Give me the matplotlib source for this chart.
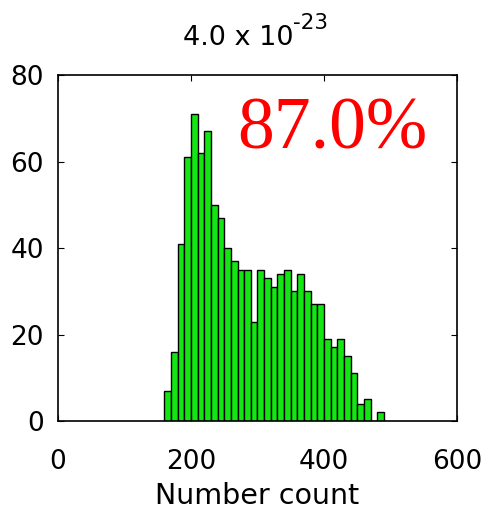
import numpy as np
import matplotlib
matplotlib.use("Agg")
import matplotlib.pyplot as plt

# ======================================================= #
# DATA
# ======================================================= #
bin_edges = np.arange(160, 500, 10)
counts = [7, 16, 41, 61, 71, 62, 67, 50, 47, 40, 37, 35, 35, 23, 35, 33, 31,
          34, 35, 30, 34, 30, 27, 27, 19, 17, 19, 15, 11, 4, 5, 0, 2]
title_base = "4.0 x 10"
title_exp = "-23"
fraction_label = "87.0%"
x_label = "Number count"

# ======================================================= #
# FIGURE
# ======================================================= #
plt.rcParams["font.family"] = ["DejaVu Sans"]

fig = plt.figure(figsize=(4.86, 5.11), dpi=100)
ax = fig.add_axes([0.1193, 0.1761, 0.821, 0.6771])

# histogram bars
ax.bar(bin_edges[:-1], counts, width=10, align="edge",
       color="#14e614", edgecolor="black", linewidth=1.0)

# axes limits and ticks
ax.set_xlim(0, 600)
ax.set_ylim(0, 80)
ax.set_xticks([0, 200, 400, 600])
ax.set_yticks([0, 20, 40, 60, 80])
ax.tick_params(direction="in", top=True, right=True, length=4, width=0.8,
               labelsize=19)
ax.tick_params(axis="x", pad=20)
ax.tick_params(axis="y", pad=10)
for sp in ax.spines.values():
    sp.set_linewidth(1.2)

# labels
ax.set_xlabel(x_label, fontsize=20.5, labelpad=5)

# title with a plain-hyphen exponent
fig.text(183 / 486, 1 - 45 / 511, title_base, fontsize=19.5,
         ha="left", va="baseline")
fig.text(293 / 486, 1 - 29 / 511, title_exp, fontsize=15.5,
         ha="left", va="baseline")

# percentage annotation
ax.text(269, 63, fraction_label, color="red", fontsize=53,
        family="Liberation Serif", ha="left", va="baseline")

fig.savefig("out.png", dpi=100)
plt.close(fig)
